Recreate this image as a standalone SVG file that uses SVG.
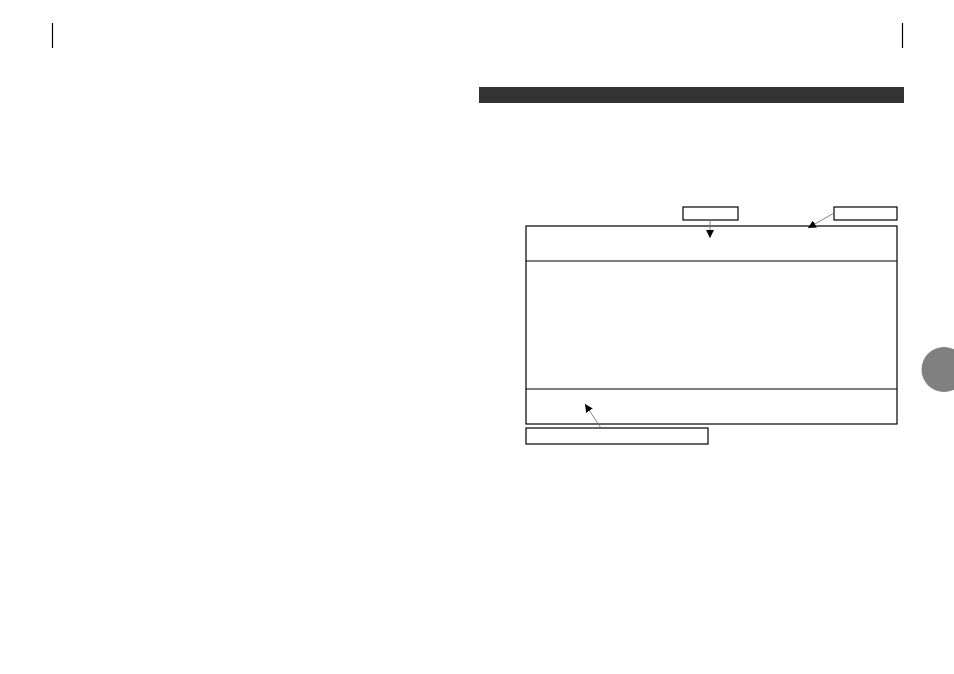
<svg xmlns="http://www.w3.org/2000/svg" width="954" height="674" viewBox="0 0 954 674">
<style>
.box{fill:#fff;stroke:#000;stroke-width:1.2}
.conn{stroke:#666;stroke-width:0.8;fill:none}
.mark{stroke:#000;stroke-width:1.2}
</style>
<defs>
<marker id="ah" viewBox="0 0 10 10" refX="10" refY="5" markerWidth="8" markerHeight="8" markerUnits="userSpaceOnUse" orient="auto">
<path d="M0,0 L10,5 L0,10 z" fill="#000"/>
</marker>
</defs>
<rect width="954" height="674" fill="#fff"/>
<g id="cropmarks">
<line class="mark" x1="52.5" y1="23" x2="52.5" y2="48"/>
<line class="mark" x1="902.5" y1="23" x2="902.5" y2="48"/>
</g>
<g id="header-bar"><rect x="479" y="87" width="425" height="16" fill="#333"/></g>
<g id="tab"><circle cx="944" cy="369.5" r="22.5" fill="#808080"/></g>
<g id="screen">
<rect class="box" x="526" y="226" width="371" height="198"/>
<line class="box" x1="526" y1="261" x2="897" y2="261"/>
<line class="box" x1="526" y1="389" x2="897" y2="389"/>
</g>
<g id="label-top1"><rect class="box" x="683" y="207" width="55" height="13"/></g>
<g id="label-top2"><rect class="box" x="834" y="207" width="63" height="13"/></g>
<g id="label-bottom"><rect class="box" x="526" y="428" width="182" height="16"/></g>
<g id="connectors">
<line class="conn" x1="710" y1="220" x2="710" y2="238" marker-end="url(#ah)"/>
<line class="conn" x1="834" y1="213" x2="808" y2="228" marker-end="url(#ah)"/>
<line class="conn" x1="601" y1="428" x2="585" y2="404" marker-end="url(#ah)"/>
</g>
</svg>
